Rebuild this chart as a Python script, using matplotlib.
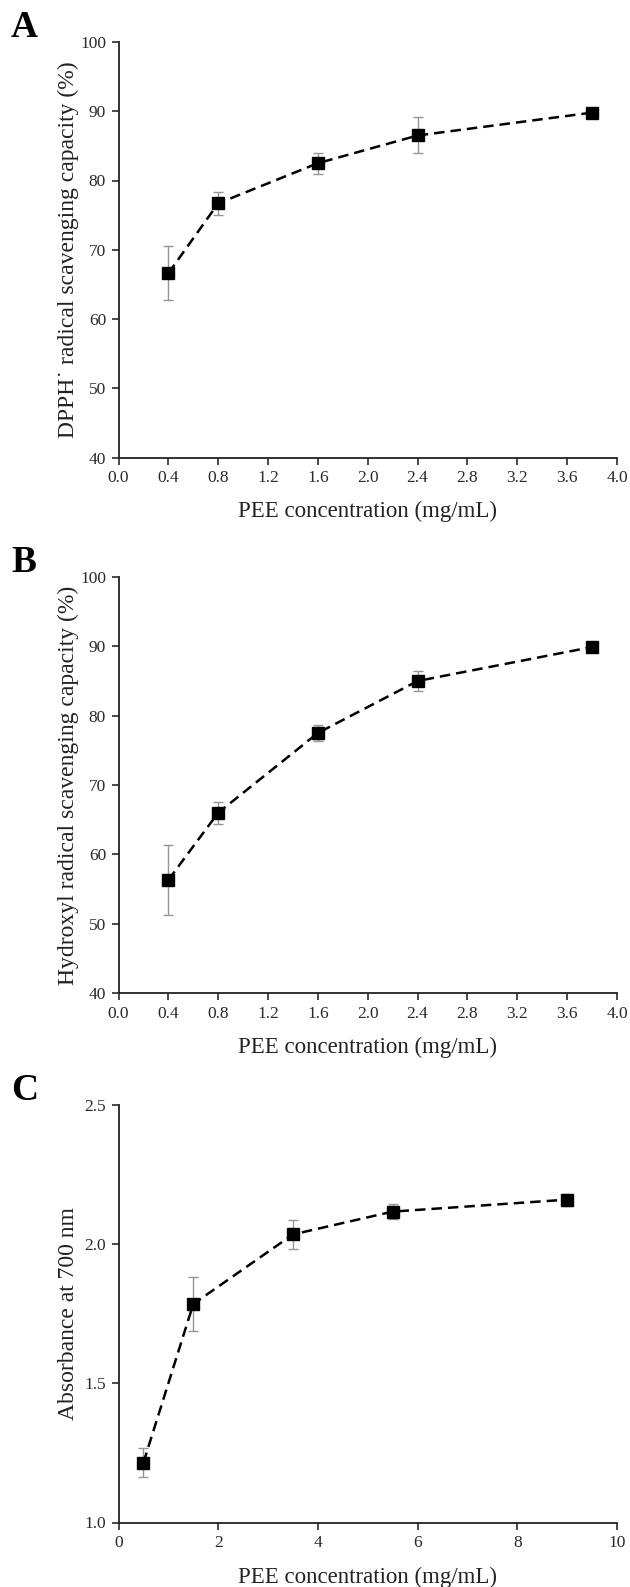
import matplotlib
matplotlib.use('Agg')
import matplotlib.pyplot as plt
from matplotlib.ticker import MultipleLocator, FormatStrFormatter

plt.rcParams['font.family'] = ['Liberation Serif', 'DejaVu Serif']

# Painel A - DPPH
conc_ab = [0.4, 0.8, 1.6, 2.4, 3.8]
dpph = [66.6, 76.7, 82.5, 86.5, 89.8]
dpph_err = [3.9, 1.7, 1.5, 2.6, 0.5]

# Painel B - hidroxila
hidroxila = [56.3, 66.0, 77.5, 85.0, 89.9]
hidroxila_err = [5.0, 1.6, 1.1, 1.4, 0.5]

# Painel C - poder redutor
conc_c = [0.5, 1.5, 3.5, 5.5, 9.0]
absorbancia = [1.215, 1.785, 2.035, 2.117, 2.16]
absorbancia_err = [0.052, 0.098, 0.052, 0.028, 0.022]

W, H = 630, 1587
fig = plt.figure(figsize=(W / 100, H / 100), dpi=100)

esq = 118.5 / W
larg = (617 - 118.5) / W

def eixo(topo, base):
    return fig.add_axes([esq, 1 - base / H, larg, (base - topo) / H])

def desenhar(ax, x, y, err):
    ax.errorbar(x, y, yerr=err, fmt='none', ecolor='#959595', elinewidth=1.0,
                capsize=3.5, capthick=1.0, zorder=2)
    ax.plot(x, y, color='black', linestyle=(0, (4.2, 2.4)), linewidth=1.8,
            marker='s', markersize=8.5, markerfacecolor='black',
            markeredgecolor='black', zorder=3)
    for lado in ['top', 'right']:
        ax.spines[lado].set_visible(False)
    for lado in ['left', 'bottom']:
        ax.spines[lado].set_linewidth(1.3)
        ax.spines[lado].set_color('#222222')
    ax.tick_params(direction='out', length=5, width=1.2, labelsize=12.5,
                   colors='#2a2a2a', pad=4)
    ax.set_xlabel('PEE concentration (mg/mL)', fontsize=16.5, color='#222222')
    ax.xaxis.set_label_coords(0.5, -0.105)
    ax.yaxis.set_label_coords(-0.08, 0.5)

# A
axA = eixo(42, 457.5)
desenhar(axA, conc_ab, dpph, dpph_err)
axA.set_xlim(0, 4.0)
axA.set_ylim(40, 100)
axA.xaxis.set_major_locator(MultipleLocator(0.4))
axA.xaxis.set_major_formatter(FormatStrFormatter('%.1f'))
axA.yaxis.set_major_locator(MultipleLocator(10))
axA.set_ylabel('DPPH\u02d9 radical scavenging capacity (%)', fontsize=17, color='#222222')

# B
axB = eixo(577, 993)
desenhar(axB, conc_ab, hidroxila, hidroxila_err)
axB.set_xlim(0, 4.0)
axB.set_ylim(40, 100)
axB.xaxis.set_major_locator(MultipleLocator(0.4))
axB.xaxis.set_major_formatter(FormatStrFormatter('%.1f'))
axB.yaxis.set_major_locator(MultipleLocator(10))
axB.set_ylabel('Hydroxyl radical scavenging capacity (%)', fontsize=17, color='#222222')

# C
axC = eixo(1105, 1522.5)
desenhar(axC, conc_c, absorbancia, absorbancia_err)
axC.set_xlim(0, 10)
axC.set_ylim(1.0, 2.5)
axC.xaxis.set_major_locator(MultipleLocator(2))
axC.yaxis.set_major_locator(MultipleLocator(0.5))
axC.yaxis.set_major_formatter(FormatStrFormatter('%.1f'))
axC.set_ylabel('Absorbance at 700 nm', fontsize=17, color='#222222')

# Letras dos paineis
for letra, base in [('A', 37), ('B', 572), ('C', 1100)]:
    fig.text(11 / W, 1 - base / H, letra, fontsize=27, fontweight='bold',
             va='baseline', ha='left', color='black')

fig.savefig('out.png', dpi=100)
